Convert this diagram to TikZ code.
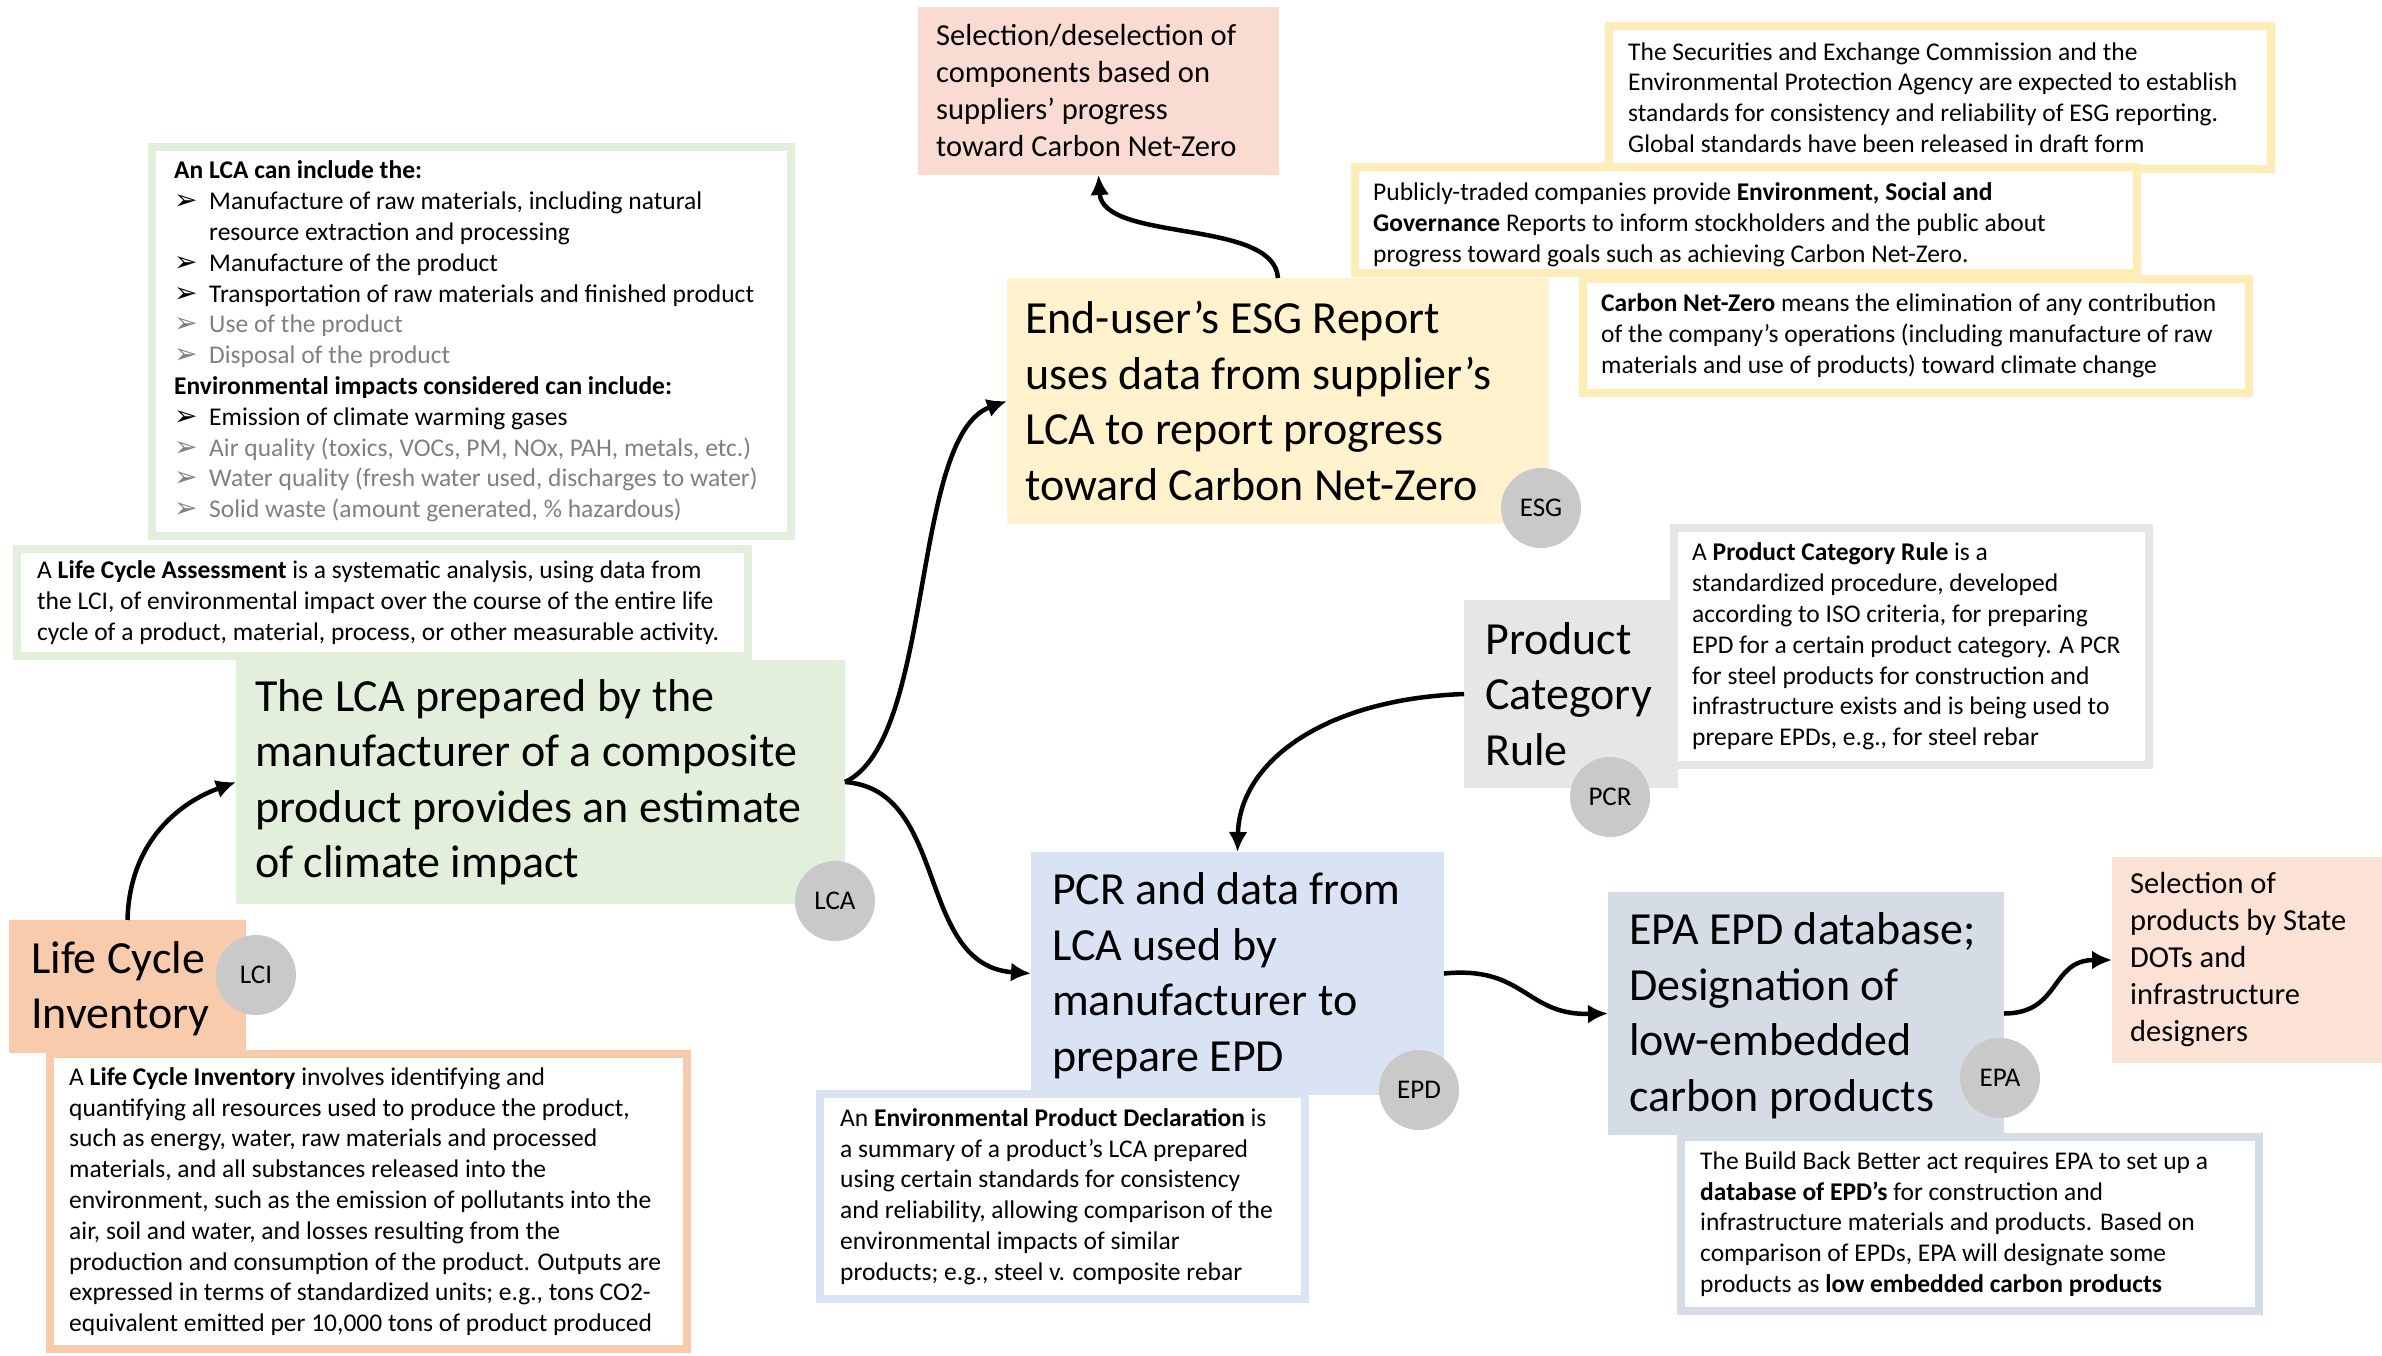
\documentclass[tikz,border=0pt]{standalone}
\usepackage{fontspec}
\setmainfont{Carlito}
\newfontfamily\dejavu{DejaVu Sans}
\usetikzlibrary{arrows.meta}
\definecolor{lcagreen}{HTML}{E2EFDA}
\definecolor{lciorange}{HTML}{F8CBAD}
\definecolor{seldpink}{HTML}{F9DBD1}
\definecolor{selppink}{HTML}{FBE2D5}
\definecolor{esgyellow}{HTML}{FFF2CC}
\definecolor{esgborder}{HTML}{FEEDB6}
\definecolor{pcrgray}{HTML}{E7E6E6}
\definecolor{epdblue}{HTML}{DAE3F3}
\definecolor{epagray}{HTML}{D6DCE5}
\definecolor{circgray}{HTML}{C9C9C9}
\definecolor{txtgray}{HTML}{808080}
\newcommand\bul{\makebox[35pt][l]{\dejavu\fontsize{28}{30.8}\selectfont ➢}}
\newcommand\gbul[1]{\textcolor{txtgray}{\bul #1}}
\tikzset{
  mainbox/.style={anchor=north west, inner sep=0pt, outer sep=0pt, draw=none},
  defbox/.style={anchor=north west, inner sep=0pt, outer sep=0pt, fill=white, line width=8pt},
  txt/.style={anchor=west, align=left, inner sep=0pt},
  big/.style={font=\fontsize{46}{55.5}\selectfont},
  mid/.style={font=\fontsize{30.5}{37}\selectfont},
  small/.style={font=\fontsize{25.5}{30.8}\selectfont},
  circ/.style={circle, fill=circgray, minimum size=80pt, inner sep=0pt, font=\fontsize{27}{30}\selectfont},
  conn/.style={line width=4.5pt, -{Latex[length=20pt,width=19pt]}}
}
\begin{document}
\begin{tikzpicture}[x=1pt,y=-1pt]
\useasboundingbox[fill=white] (0,0) rectangle (2382,1355);

% main boxes
\node[mainbox, fill=lcagreen, minimum width=609pt, minimum height=244pt] (lca) at (236,660) {};
\node[mainbox, fill=lciorange, minimum width=237pt, minimum height=133pt] (lci) at (9,920) {};
\node[mainbox, fill=seldpink, minimum width=361pt, minimum height=168pt] (seld) at (918,7) {};
\node[mainbox, fill=esgyellow, minimum width=542pt, minimum height=246pt] (esg) at (1007,278) {};
\node[mainbox, fill=pcrgray, minimum width=214pt, minimum height=188pt] (pcr) at (1464,600) {};
\node[mainbox, fill=epdblue, minimum width=413pt, minimum height=243pt] (epd) at (1031,852) {};
\node[mainbox, fill=epagray, minimum width=396pt, minimum height=243pt] (epa) at (1608,892) {};
\node[mainbox, fill=selppink, minimum width=270pt, minimum height=206pt] (selp) at (2112,857) {};

\node[txt, big] (lca-t) at ([xshift=19pt]lca.west) {The LCA prepared by the\\manufacturer of a composite\\product provides an estimate\\of climate impact};
\node[txt, big] (lci-t) at ([xshift=22pt,yshift=-2pt]lci.west) {Life Cycle\\Inventory};
\node[txt, mid] (seld-t) at ([xshift=18pt]seld.west) {Selection/deselection of\\components based on\\suppliers’ progress\\toward Carbon Net-Zero};
\node[txt, big] (esg-t) at ([xshift=18pt]esg.west) {End-user’s ESG Report\\uses data from supplier’s\\LCA to report progress\\toward Carbon Net-Zero};
\node[txt, big] (pcr-t) at ([xshift=21pt]pcr.west) {Product\\Category\\Rule};
\node[txt, big] (epd-t) at ([xshift=21pt,yshift=-2pt]epd.west) {PCR and data from\\LCA used by\\manufacturer to\\prepare EPD};
\node[txt, big] (epa-t) at ([xshift=21pt,yshift=-2pt]epa.west) {EPA EPD database;\\Designation of\\low-embedded\\carbon products};
\node[txt, mid] (selp-t) at ([xshift=18pt]selp.west) {Selection of\\products by State\\DOTs and\\infrastructure\\designers};

% definition boxes
\node[defbox, draw=lcagreen, minimum width=639pt, minimum height=389pt] (lcainc) at (152,147) {};
\node[txt, small] (lcainc-t) at ([xshift=22pt]lcainc.west) {\textbf{An LCA can include the:}\\
\bul Manufacture of raw materials, including natural\\
\hspace*{35pt}resource extraction and processing\\
\bul Manufacture of the product\\
\bul Transportation of raw materials and finished product\\
\gbul{Use of the product}\\
\gbul{Disposal of the product}\\
\textbf{Environmental impacts considered can include:}\\
\bul Emission of climate warming gases\\
\gbul{Air quality (toxics, VOCs, PM, NOx, PAH, metals, etc.)}\\
\gbul{Water quality (fresh water used, discharges to water)}\\
\gbul{Solid waste (amount generated, \% hazardous)}};

\node[defbox, draw=lcagreen, minimum width=731pt, minimum height=107pt] (lcadef) at (17,549) {};
\node[txt, small] (lcadef-t) at ([xshift=20pt]lcadef.west) {A \textbf{Life Cycle Assessment} is a systematic analysis, using data from\\the LCI, of environmental impact over the course of the entire life\\cycle of a product, material, process, or other measurable activity.};

\node[defbox, draw=lciorange, minimum width=637pt, minimum height=295pt] (lcidef) at (50,1054) {};
\node[txt, small] (lcidef-t) at ([xshift=19pt]lcidef.west) {A \textbf{Life Cycle Inventory} involves identifying and\\quantifying all resources used to produce the product,\\such as energy, water, raw materials and processed\\materials, and all substances released into the\\environment, such as the emission of pollutants into the\\air, soil and water, and losses resulting from the\\production and consumption of the product. Outputs are\\expressed in terms of standardized units; e.g., tons CO2-\\equivalent emitted per 10,000 tons of product produced};

\node[defbox, draw=esgborder, minimum width=662pt, minimum height=143pt] (sec) at (1609,26) {};
\node[txt, small] (sec-t) at ([xshift=19pt]sec.west) {The Securities and Exchange Commission and the\\Environmental Protection Agency are expected to establish\\standards for consistency and reliability of ESG reporting.\\Global standards have been released in draft form};

\node[defbox, draw=esgborder, minimum width=782pt, minimum height=106pt] (pt) at (1355,167) {};
\node[txt, small, yshift=-5pt] (pt-t) at ([xshift=18pt]pt.west) {Publicly-traded companies provide \textbf{Environment, Social and}\\\textbf{Governance} Reports to inform stockholders and the public about\\progress toward goals such as achieving Carbon Net-Zero.};

\node[defbox, draw=esgborder, minimum width=666pt, minimum height=114pt] (cnz) at (1583,279) {};
\node[txt, small] (cnz-t) at ([xshift=18pt]cnz.west) {\textbf{Carbon Net-Zero} means the elimination of any contribution\\of the company’s operations (including manufacture of raw\\materials and use of products) toward climate change};

\node[defbox, draw=pcrgray, minimum width=475pt, minimum height=237pt] (pcrdef) at (1674,528) {};
\node[txt, small] (pcrdef-t) at ([xshift=18pt]pcrdef.west) {A \textbf{Product Category Rule} is a\\standardized procedure, developed\\according to ISO criteria, for preparing\\EPD for a certain product category. A PCR\\for steel products for construction and\\infrastructure exists and is being used to\\prepare EPDs, e.g., for steel rebar};

\node[defbox, draw=epdblue, minimum width=485pt, minimum height=205pt] (epddef) at (820,1094) {};
\node[txt, small] (epddef-t) at ([xshift=20pt]epddef.west) {An \textbf{Environmental Product Declaration} is\\a summary of a product’s LCA prepared\\using certain standards for consistency\\and reliability, allowing comparison of the\\environmental impacts of similar\\products; e.g., steel v. composite rebar};

\node[defbox, draw=epagray, minimum width=578pt, minimum height=174pt] (epadef) at (1681,1137) {};
\node[txt, small] (epadef-t) at ([xshift=19pt]epadef.west) {The Build Back Better act requires EPA to set up a\\\textbf{database of EPD’s} for construction and\\infrastructure materials and products. Based on\\comparison of EPDs, EPA will designate some\\products as \textbf{low embedded carbon products}};

% circles
\node[circ] (lcac) at (835,901) {LCA};
\node[circ] (lcic) at (256,975) {LCI};
\node[circ] (esgc) at (1541,508) {ESG};
\node[circ] (pcrc) at (1610,797) {PCR};
\node[circ] (epdc) at (1419,1090) {EPD};
\node[circ] (epac) at (2000,1078) {EPA};

% connectors
\draw[conn] (lci.north) .. controls +(2,-80) and +(-55,20) .. (lca.west);
\draw[conn] (lca.east) .. controls +(90,-42) and +(-97,35) .. (esg.west);
\draw[conn] (lca.east) .. controls +(105,8) and +(-116,-8) .. (epd.west);
\draw[conn] (esg.north) .. controls +(-4,-60) and +(4,68) .. (seld.south);
\draw[conn] (pcr.west) .. controls +(-140,5) and +(2,-90) .. (epd.north);
\draw[conn] (epd.east) .. controls +(81,-8) and +(-83,2) .. (epa.west);
\draw[conn] (epa.east) .. controls +(57,0) and +(-62,0) .. (selp.west);
\end{tikzpicture}
\end{document}
